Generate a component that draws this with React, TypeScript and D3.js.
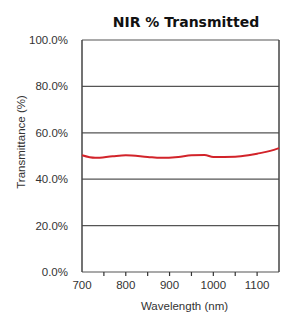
import React, { useEffect, useRef } from 'react';
import * as d3 from 'd3';

const wavelengths = [700, 730, 770, 800, 850, 880, 920, 950, 980, 1000, 1050, 1080, 1100, 1130, 1150];
const transmitted = [50.3, 49.2, 49.9, 50.3, 49.6, 49.2, 49.6, 50.3, 50.4, 49.6, 49.7, 50.3, 51.0, 52.2, 53.4];
const yTicks = [0, 20, 40, 60, 80, 100];
const xLabels = [700, 800, 900, 1000, 1100];
const xMinor = [750, 800, 850, 900, 950, 1000, 1050, 1100];

export default function App() {
  const ref = useRef<SVGSVGElement>(null);

  useEffect(() => {
    const width = 282;
    const height = 318;
    const margin = { top: 40, right: 3, bottom: 46, left: 82 };
    const w = width - margin.left - margin.right;
    const h = height - margin.top - margin.bottom;

    const svg = d3.select(ref.current).attr('width', width).attr('height', height);
    svg.selectAll('*').remove();
    svg.style('font-family', '"Liberation Sans", Arial, sans-serif');

    const g = svg.append('g').attr('transform', `translate(${margin.left},${margin.top})`);

    const x = d3.scaleLinear().domain([700, 1150]).range([0, w]);
    const y = d3.scaleLinear().domain([0, 100]).range([h, 0]);

    // gridlines
    g.selectAll('.grid')
      .data(yTicks)
      .enter()
      .append('line')
      .attr('x1', 0)
      .attr('x2', w)
      .attr('y1', (d) => y(d))
      .attr('y2', (d) => y(d))
      .attr('stroke', '#555')
      .attr('stroke-width', 1.2);

    // frame sides
    g.append('line').attr('x1', 0).attr('x2', 0).attr('y1', 0).attr('y2', h).attr('stroke', '#444').attr('stroke-width', 1.5);
    g.append('line').attr('x1', w).attr('x2', w).attr('y1', 0).attr('y2', h).attr('stroke', '#444').attr('stroke-width', 1.5);

    // x ticks
    g.selectAll('.xt')
      .data(xMinor)
      .enter()
      .append('line')
      .attr('x1', (d) => x(d))
      .attr('x2', (d) => x(d))
      .attr('y1', h)
      .attr('y2', h + 4)
      .attr('stroke', '#333')
      .attr('stroke-width', 1.2);

    g.selectAll('.xl')
      .data(xLabels)
      .enter()
      .append('text')
      .attr('x', (d) => x(d))
      .attr('y', h + 17)
      .attr('text-anchor', 'middle')
      .attr('font-size', 11.5)
      .attr('fill', '#333')
      .text((d) => d);

    g.selectAll('.yl')
      .data(yTicks)
      .enter()
      .append('text')
      .attr('x', -14)
      .attr('y', (d) => y(d) + 4)
      .attr('text-anchor', 'end')
      .attr('font-size', 11.5)
      .attr('fill', '#333')
      .text((d) => d.toFixed(1) + '%');

    const line = d3
      .line<number>()
      .x((_, i) => x(wavelengths[i]))
      .y((d) => y(d))
      .curve(d3.curveMonotoneX);

    g.append('path')
      .datum(transmitted)
      .attr('d', line)
      .attr('fill', 'none')
      .attr('stroke', '#d2232a')
      .attr('stroke-width', 2);

    svg
      .append('text')
      .attr('x', 186)
      .attr('y', 27)
      .attr('text-anchor', 'middle')
      .attr('font-size', 14)
      .attr('font-weight', 'bold')
      .attr('font-family', '"DejaVu Sans", sans-serif')
      .attr('fill', '#111')
      .text('NIR % Transmitted');

    svg
      .append('text')
      .attr('x', margin.left + w / 2 + 4)
      .attr('y', 310)
      .attr('text-anchor', 'middle')
      .attr('font-size', 11.5)
      .attr('fill', '#333')
      .text('Wavelength (nm)');

    svg
      .append('text')
      .attr('transform', `translate(25,142) rotate(-90)`)
      .attr('text-anchor', 'middle')
      .attr('font-size', 11.5)
      .attr('fill', '#333')
      .text('Transmittance (%)');
  }, []);

  return (
    <svg ref={ref} style={{ position: 'absolute', left: 0, top: 0 }}></svg>
  );
}
